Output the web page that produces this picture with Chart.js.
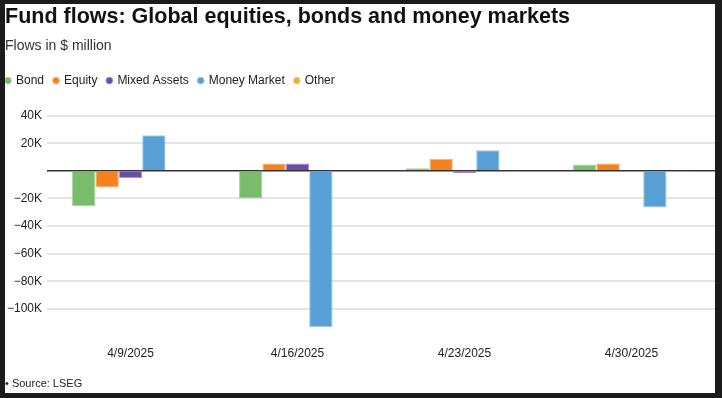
<!DOCTYPE html>
<html>
<head>
<meta charset="utf-8">
<script src="https://cdn.jsdelivr.net/npm/chart.js@4/dist/chart.umd.min.js"></script>
<style>
  body { margin: 0; background: #1b1b1b; width: 722px; height: 398px; overflow: hidden; }
  #box { position: absolute; left: 5px; top: 4px; width: 710px; height: 389px; background: #fff; }
  #wrap { position: absolute; left: 0; top: 0; width: 710px; height: 389px; }
  #source { position: absolute; left: 0; top: 373px; font: 11px "Liberation Sans", Arial, sans-serif; color: #222; }
</style>
</head>
<body>
<div id="box">
  <div id="wrap"><canvas id="fundFlows"></canvas></div>
  <div id="source">• Source: LSEG</div>
</div>
<script>
const categories = ['4/9/2025', '4/16/2025', '4/23/2025', '4/30/2025']

const bond = [-25600, -20000, 1900, 4600]
const equity = [-12000, 5300, 8800, 5300]
const mixedAssets = [-5400, 5300, -1800, 700]
const moneyMarket = [25800, -113000, 15000, -26600]
const other = [-600, 0, -1000, -900]

const FONT = '"Liberation Sans", Arial, Helvetica, sans-serif'

// more room under the legend, and legend pulled to the left edge
const legendTweak = {
  id: 'legendTweak',
  beforeInit(chart) {
    const fit = chart.legend.fit
    chart.legend.fit = function () {
      fit.bind(chart.legend)()
      this.height += 19
    }
  },
  afterLayout(chart) {
    chart.legend.left -= 9
  }
}

function series(label, data, color, edge) {
  return {
    label: label,
    data: data,
    backgroundColor: color,
    borderColor: edge,
    borderWidth: 1,
    categoryPercentage: 0.7,
    barPercentage: 1.0
  }
}

var ctx = document.getElementById('fundFlows')
var fundChart = new Chart(ctx, {
  type: 'bar',
  data: {
    labels: categories,
    datasets: [
      series('Bond', bond, '#79bc6b', '#a6d49b'),
      series('Equity', equity, '#f5821f', '#f9b27a'),
      series('Mixed Assets', mixedAssets, '#6a4ea5', '#a595cc'),
      series('Money Market', moneyMarket, '#589fd5', '#a0c8e8'),
      series('Other', other, '#e7b424', '#f1d27c')
    ]
  },
  options: {
    responsive: true,
    maintainAspectRatio: false,
    animation: false,
    layout: {
      padding: { left: 0, right: 0, top: 0, bottom: 22 }
    },
    plugins: {
      title: {
        display: true,
        text: 'Fund flows: Global equities, bonds and money markets',
        align: 'start',
        color: '#111',
        font: { family: FONT, size: 21.5, weight: 'bold', lineHeight: 1.2 },
        padding: { top: 0, bottom: 8 }
      },
      subtitle: {
        display: true,
        text: 'Flows in $ million',
        align: 'start',
        color: '#333',
        font: { family: FONT, size: 14, lineHeight: 1.2 },
        padding: { top: 0, bottom: 10 }
      },
      legend: {
        display: true,
        align: 'start',
        labels: {
          usePointStyle: true,
          pointStyle: 'circle',
          boxWidth: 4,
          boxHeight: 4.8,
          padding: 10,
          color: '#222',
          font: { family: FONT, size: 12 }
        }
      },
      tooltip: { enabled: false }
    },
    scales: {
      x: {
        grid: { display: false, drawTicks: false },
        border: { display: false },
        ticks: {
          color: '#222',
          padding: 10,
          font: { family: FONT, size: 12 }
        }
      },
      y: {
        min: -120000,
        max: 40000,
        afterFit: (scale) => { scale.width = 42 },
        border: { display: false },
        grid: {
          drawTicks: false,
          color: (c) => {
            if (c.tick.value === 0) return '#333'
            if (c.tick.value === -120000) return 'rgba(0,0,0,0)'
            return '#e4e4e4'
          },
          lineWidth: (c) => c.tick.value === 0 ? 1.5 : 2
        },
        ticks: {
          stepSize: 20000,
          padding: 5,
          color: '#222',
          font: { family: FONT, size: 12 },
          callback: (value) => {
            if (value === 0 || value === -120000) return ''
            const k = Math.abs(value) / 1000
            return (value < 0 ? '\u2212' : '') + k + 'K'
          }
        }
      }
    }
  },
  plugins: [legendTweak]
})
</script>
</body>
</html>
